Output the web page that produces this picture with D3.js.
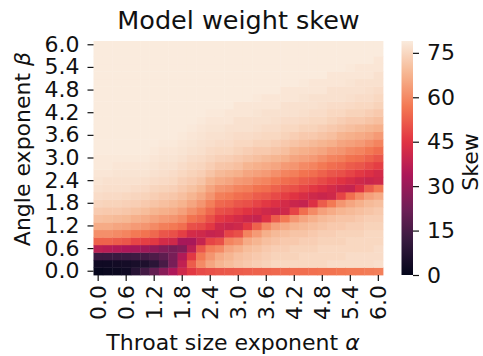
<!DOCTYPE html>
<html><head><meta charset="utf-8">
<script src="https://cdn.jsdelivr.net/npm/d3@7"></script>
<style>
body{margin:0;background:#fff;}
svg{display:block;font-family:"DejaVu Sans",sans-serif;}
</style>
</head><body>
<svg id="chart" width="483" height="356"></svg>
<script>
// ---------- data ----------
const alphaValues = [0.0,0.2,0.4,0.6,0.8,1.0,1.2,1.4,1.6,1.8,2.0,2.2,2.4,2.6,2.8,3.0,3.2,3.4,3.6,3.8,4.0,4.2,4.4,4.6,4.8,5.0,5.2,5.4,5.6,5.8,6.0];
const betaValues  = [0.0,0.2,0.4,0.6,0.8,1.0,1.2,1.4,1.6,1.8,2.0,2.2,2.4,2.6,2.8,3.0,3.2,3.4,3.6,3.8,4.0,4.2,4.4,4.6,4.8,5.0,5.2,5.4,5.6,5.8,6.0];
const alphaTickLabels = ["0.0","0.6","1.2","1.8","2.4","3.0","3.6","4.2","4.8","5.4","6.0"];
const betaTickLabels  = ["0.0","0.6","1.2","1.8","2.4","3.0","3.6","4.2","4.8","5.4","6.0"];
const colorbarTicks = [0,15,30,45,60,75];
const skewMin = 0, skewMax = 79;
// one array per alpha column, values for beta = 0.0 ... 6.0
const skewByAlpha = [
[1,3,12,37,53,61,66,70,72.5,74.5,76,77,77.5,78,78.5,78.5,79,79,79,79,79,79,79,79,79,79,79,79,79,79,79],
[1.5,3,12,36,53,61,66,69.5,72,74,75.5,76.5,77,78,78.5,78.5,79,79,79,79,79,79,79,79,79,79,79,79,79,79,79],
[2,3.5,12,35,52,60,65,69,72,74,75.5,76.5,77,77.5,78,78.5,79,79,79,79,79,79,79,79,79,79,79,79,79,79,79],
[3,4,12.5,34,51,59,64.5,68.5,71.5,73.5,75,76.5,77,77.5,78,78.5,79,79,79,79,79,79,79,79,79,79,79,79,79,79,79],
[8,5,13,33,48,57,63,67,70.5,73,74.5,76,77,77.5,78,78.5,79,79,79,79,79,79,79,79,79,79,79,79,79,79,79],
[14,6,14,31,47,56,62,66,69.5,72,74,75.5,76.5,77.5,78,78.5,79,79,79,79,79,79,79,79,79,79,79,79,79,79,79],
[20,9,16,29,46,54,60,64.5,68,71,73,74.5,76,77,77.5,78,78.5,79,79,79,79,79,79,79,79,79,79,79,79,79,79],
[27,15,19,26,42,51,58,63,67,70,72,74,75.5,76.5,77,77.5,78,78.5,79,79,79,79,79,79,79,79,79,79,79,79,79],
[34,24,24,24,41,50,57,62,66,69,71.5,73.5,75,76,77,77.5,78,78.5,79,79,79,79,79,79,79,79,79,79,79,79,79],
[41,38,35,26,33,47,55,60,64,67.5,70,72,73.5,75,76,77,77.5,78,78.5,79,79,79,79,79,79,79,79,79,79,79,79],
[46,52,46,37,33,42,50,56,61,65,68,70.5,72.5,74,75,76,77,77.5,78,78.5,79,79,79,79,79,79,79,79,79,79,79],
[49,60,57,51,39,41,49,54,58,62,65.5,68.5,71,73,74.5,75.5,76.5,77,77.5,78,78.5,79,79,79,79,79,79,79,79,79,79],
[50,65,62,58,48,39,46,50,54,58,62,65,68,71,73,74.5,75.5,76.5,77,77.5,78,78.5,79,79,79,79,79,79,79,79,79],
[51,68,66,60,50,40,41,46,50,54,58,62,66,69,71.5,73.5,75,76,77,77.5,78,78.5,79,79,79,79,79,79,79,79,79],
[51.5,69.5,68,65,59,48,40,44,49,53,57,61,65,68,71,73,75,76,76.5,77,78,78,79,79,79,79,79,79,79,79,79],
[52,71,70,67,61,50,41,42,47,51,55,59,63,67,70,72,74,75,76,77,77,78,78,79,79,79,79,79,79,79,79],
[52.5,72,71,69.5,66,59,46,40,45,50,54,58,62,65,68,71,73,75,76,77,77,78,78,79,79,79,79,79,79,79,79],
[53,73,72,70.5,68,63,53,39,43,48,52,56,60,64,67,70,72,74,75.5,76.5,77,77.5,78,78.5,79,79,79,79,79,79,79],
[53.5,74,73,72,70,67,60,44,41,46,51,55,59,63,66,69,72,74,75,76,77,77,78,78,79,79,79,79,79,79,79],
[54,75,74,73,71,69,64,52,40,44,49,53,57,61,65,68,71,73,75,76,76.5,77,78,78,79,79,79,79,79,79,79],
[54.5,75,74,73,72,70,66,57,41,42,47,51,55,59,63,67,70,72,74,75,76,77,77,78,78,79,79,79,79,79,79],
[55,75,74,74,72,71,68,62,48,40,45,50,54,58,62,65,68,71,73,75,76,77,77,78,78,79,79,79,79,79,79],
[55,75,75,74,73,71,69,65,55,39,43,48,52,56,60,64,67,70,72,74,75.5,76.5,77,77.5,78,78.5,79,79,79,79,79],
[55.5,75,75,74,73,72,70,67,60,44,41,46,51,55,59,63,66,69,72,74,75,76,77,77,78,78,79,79,79,79,79],
[56,75,75,75,74,73,71,69,64,52,40,44,49,53,57,61,65,68,71,73,75,76,76.5,77,78,78,79,79,79,79,79],
[56,76,75,75,74,73,72,70,66,57,41,42,47,51,55,59,63,67,70,72,74,75,76,77,77,78,78,79,79,79,79],
[56.5,76,75,75,74,74,72,71,68,62,48,40,45,50,54,58,62,65,68,71,73,75,76,77,77,78,78,79,79,79,79],
[57,76,76,75,75,74,73,71,69,65,55,39,43,48,52,56,60,64,67,70,72,74,75.5,76.5,77,77.5,78,78.5,79,79,79],
[57,76,76,75,75,74,73,72,70,67,60,44,41,46,51,55,59,63,66,69,72,74,75,76,77,77,78,78,79,79,79],
[57.5,76,76,75,75,75,74,73,71,69,64,52,40,44,49,53,57,61,65,68,71,73,75,76,76.5,77,78,78,79,79,79],
[58,76.5,76,76,75,75,74,73,72,70,66,57,41,42,47,51,55,59,63,67,70,72,74,75,76,77,77,78,78,79,79]
];
// seaborn "rocket" colormap anchor colours
const rocketColors = ["#03051a","#35193e","#701f57","#ad1759","#e13342","#f37651","#f6b48f","#faebdd"];

// ---------- layout ----------
const plot = {left: 93.5, right: 383, top: 41, bottom: 275};
const cbar = {left: 401.5, width: 11.5};
const fontTick = 22, fontLabel = 22, fontTitle = 25.5;
const textColor = "#111";

const svg = d3.select("#chart");
const fmt = d3.format(".1f");
const alphaKeys = alphaValues.map(fmt);
const betaKeys = betaValues.map(fmt);

const x = d3.scaleBand().domain(alphaKeys).range([plot.left, plot.right]).padding(0);
const y = d3.scaleBand().domain(betaKeys.slice().reverse()).range([plot.top, plot.bottom]).padding(0);

const rocket = d3.scaleLinear()
  .domain(rocketColors.map((c, i) => skewMin + (skewMax - skewMin) * i / (rocketColors.length - 1)))
  .range(rocketColors)
  .interpolate(d3.interpolateRgb)
  .clamp(true);

// ---------- heatmap ----------
const cells = [];
skewByAlpha.forEach((col, i) => col.forEach((v, j) => cells.push({a: alphaKeys[i], b: betaKeys[j], v})));
svg.append("g").selectAll("rect").data(cells).join("rect")
  .attr("x", d => x(d.a))
  .attr("y", d => y(d.b))
  .attr("width", x.bandwidth() + 0.4)
  .attr("height", y.bandwidth() + 0.4)
  .attr("fill", d => rocket(d.v));

// ---------- axes ----------
const xAxis = svg.append("g")
  .attr("transform", `translate(0,${plot.bottom})`)
  .call(d3.axisBottom(x).tickValues(alphaTickLabels).tickSize(6).tickSizeOuter(0));
xAxis.select(".domain").remove();
xAxis.selectAll(".tick line").attr("stroke", textColor).attr("stroke-width", 1.2);
xAxis.selectAll(".tick text")
  .attr("font-size", fontTick).attr("fill", textColor)
  .attr("font-family", "DejaVu Sans")
  .attr("transform", "rotate(-90)")
  .attr("x", -10).attr("y", 0).attr("dy", "0.35em")
  .attr("text-anchor", "end");

const yAxis = svg.append("g")
  .attr("transform", `translate(${plot.left},0)`)
  .call(d3.axisLeft(y).tickValues(betaTickLabels).tickSize(6).tickPadding(8).tickSizeOuter(0));
yAxis.select(".domain").remove();
yAxis.selectAll(".tick line").attr("stroke", textColor).attr("stroke-width", 1.2);
yAxis.selectAll(".tick text")
  .attr("font-size", fontTick).attr("fill", textColor)
  .attr("font-family", "DejaVu Sans");

// ---------- colorbar ----------
const cy = d3.scaleLinear().domain([skewMin, skewMax]).range([plot.bottom, plot.top]);
const defs = svg.append("defs");
const grad = defs.append("linearGradient").attr("id", "cbgrad")
  .attr("x1", 0).attr("y1", 1).attr("x2", 0).attr("y2", 0);
grad.selectAll("stop").data(d3.range(0, 1.0001, 0.02)).join("stop")
  .attr("offset", d => d)
  .attr("stop-color", d => rocket(skewMin + d * (skewMax - skewMin)));
svg.append("rect")
  .attr("x", cbar.left).attr("y", plot.top)
  .attr("width", cbar.width).attr("height", plot.bottom - plot.top)
  .attr("fill", "url(#cbgrad)");
const cAxis = svg.append("g")
  .attr("transform", `translate(${cbar.left + cbar.width},0)`)
  .call(d3.axisRight(cy).tickValues(colorbarTicks).tickSize(6).tickPadding(8).tickSizeOuter(0));
cAxis.select(".domain").remove();
cAxis.selectAll(".tick line").attr("stroke", textColor).attr("stroke-width", 1.2);
cAxis.selectAll(".tick text")
  .attr("font-size", fontTick).attr("fill", textColor)
  .attr("font-family", "DejaVu Sans");

// ---------- labels ----------
svg.append("text")
  .attr("x", 238.5).attr("y", 28.5)
  .attr("text-anchor", "middle").attr("font-size", fontTitle).attr("fill", textColor)
  .text("Model weight skew");

const xl = svg.append("text")
  .attr("x", 233).attr("y", 350)
  .attr("text-anchor", "middle").attr("font-size", fontLabel).attr("fill", textColor);
xl.append("tspan").text("Throat size exponent ");
xl.append("tspan").attr("font-style", "italic").text("α");

const yl = svg.append("text")
  .attr("transform", `translate(29.5,149) rotate(-90)`)
  .attr("text-anchor", "middle").attr("font-size", fontLabel).attr("fill", textColor);
yl.append("tspan").text("Angle exponent ");
yl.append("tspan").attr("font-style", "italic").text("β");

svg.append("text")
  .attr("transform", `translate(478,162) rotate(-90)`)
  .attr("text-anchor", "middle").attr("font-size", fontLabel).attr("fill", textColor)
  .text("Skew");
</script>
</body></html>
